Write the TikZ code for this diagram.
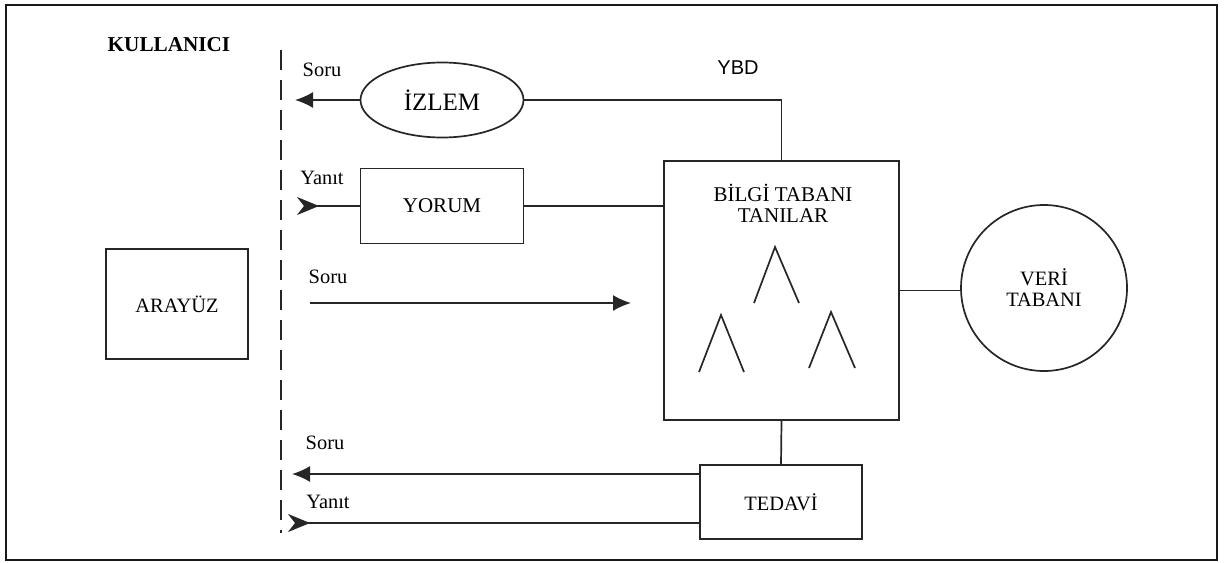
\documentclass[tikz,border=0pt]{standalone}
\usepackage{fontspec}
\setmainfont{Liberation Serif}
\newfontfamily\ybdfont{Liberation Sans}
\usetikzlibrary{arrows.meta,shapes.geometric}
\begin{document}
\begin{tikzpicture}[x=0.5pt,y=-0.5pt,
  every node/.style={font=\fontsize{10.2}{10.5}\selectfont},
  ln/.style={line width=0.85pt,draw=black!85},
  boxn/.style={draw=black!85,line width=0.85pt,rectangle,inner sep=0pt,align=center},
  lbl/.style={inner sep=0pt},
  outtip/.style={-{Latex[length=9pt,width=8pt]}},
  intip/.style={{Stealth[reversed,length=11pt,width=9pt,inset=3.5pt]}-},
  tree/.style={line width=0.85pt,draw=black!85}]
\useasboundingbox (0,0) rectangle (1224,562);
\draw[line width=1.3pt,draw=black!90] (6,5) rectangle (1217,560);
% labels
\node[lbl,font=\fontsize{10.6}{11}\selectfont\bfseries] (kul) at (169,45) {KULLANICI};
% dashed separator
\coordinate (dtop) at (281,50);
\coordinate (dbot) at (281,533);
\draw[ln,dash pattern=on 10pt off 5pt] (dtop) -- (dbot);
% nodes
\node[draw=black!85,line width=0.85pt,ellipse,inner sep=0pt,minimum width=81.5pt,minimum height=37.5pt,font=\fontsize{12.5}{13}\selectfont] (izlem) at (442,100) {İZLEM};
\node[boxn,minimum width=81.5pt,minimum height=37.5pt,font=\fontsize{10.5}{11}\selectfont] (yorum) at (442,206) {YORUM};
\node[boxn,minimum width=117.5pt,minimum height=129.5pt] (bt) at (781.5,290.5) {};
\node[lbl,align=center,font=\fontsize{10.5}{10.5}\selectfont] (bttext) at (783,203) {BİLGİ TABANI\\TANILAR};
\node[boxn,minimum width=71pt,minimum height=55pt] (arayuz) at (177,304) {ARAYÜZ};
\node[draw=black!85,line width=0.85pt,circle,inner sep=0pt,minimum size=83pt,align=center,font=\fontsize{10.2}{10.5}\selectfont] (veri) at (1044,288) {VERİ\\TABANI};
\node[boxn,minimum width=81pt,minimum height=37pt] (tedavi) at (781,502) {TEDAVİ};
% text labels
\node[lbl] (soru1) at (322,70) {Soru};
\node[lbl] (yanit1) at (322,178) {Yanıt};
\node[lbl] (soru3) at (328,277) {Soru};
\node[lbl] (soru2) at (325,443) {Soru};
\node[lbl] (yanit2) at (328,502) {Yanıt};
\node[lbl,font=\ybdfont\fontsize{10}{10}\selectfont] (ybd) at (738,68) {YBD};
% coordinates for free ends
\coordinate (s1) at (295,100);
\coordinate (y1) at (297,206);
\coordinate (s3a) at (310,303);
\coordinate (s3b) at (631,303);
\coordinate (s2) at (292,474);
\coordinate (y2) at (288,523);
% connectors
\draw[ln,outtip] (izlem.west) -- (s1);
\draw[ln] (izlem.east) -| (bt.north);
\draw[ln,intip] (y1) -- (yorum.west);
\draw[ln] (yorum.east) -- (yorum.east -| bt.west);
\draw[ln,-{Latex[length=9pt,width=8pt]}] (s3a) -- (s3b);
\draw[ln] (bt.east) -- (bt.east -| veri.west);
\draw[ln] (bt.south) -- (tedavi.north);
\draw[ln,outtip] (s2 -| tedavi.west) -- (s2);
\draw[ln,intip] (y2) -- (y2 -| tedavi.west);
% trees
\draw[tree] (754,303) -- (775,247) -- (799,303);
\draw[tree] (699,372) -- (721,315) -- (744,372);
\draw[tree] (809,368) -- (831,312) -- (855,368);
\end{tikzpicture}
\end{document}
